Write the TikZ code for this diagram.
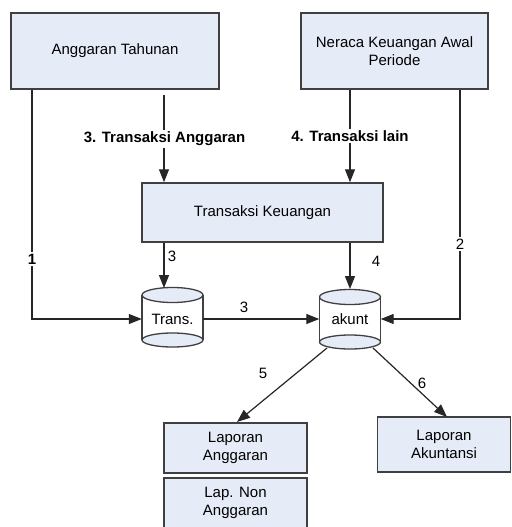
\documentclass[tikz,border=0pt]{standalone}
\usepackage{fontspec}
\setmainfont{Liberation Sans}
\usetikzlibrary{arrows.meta}
\definecolor{boxfill}{HTML}{E6ECF7}
\definecolor{edge}{HTML}{404040}
\begin{document}
\begin{tikzpicture}[x=1pt,y=-1pt,
  font=\fontsize{15}{18.5}\selectfont,
  box/.style={draw=edge, line width=1.5pt, fill=boxfill, align=center, inner sep=0pt},
  arr/.style={-{Triangle[length=13pt,width=10pt]}, line width=1.2pt, draw=black!85},
  lbl/.style={fill=white, inner sep=1.5pt},
  cyl/.style={draw=edge, line width=1.3pt}]
\clip (0,0) rectangle (511,527);
\fill[white] (0,0) rectangle (511,527);
% boxes
\node[box, minimum width=208pt, minimum height=76pt] (at) at (115,51) {Anggaran Tahunan};
\node[box, minimum width=187pt, minimum height=76pt] (nk) at (394.5,51) {Neraca Keuangan Awal\\Periode};
\node[box, minimum width=241pt, minimum height=59pt] (tk) at (262.5,212.5) {Transaksi Keuangan};
\node[box, minimum width=143pt, minimum height=50pt] (la) at (235.5,448) {Laporan\\Anggaran};
\node[box, minimum width=143pt, minimum height=50pt] (lna) at (235.5,503) {Lap. Non\\Anggaran};
\node[box, minimum width=133pt, minimum height=55pt] (lak) at (444,444.5) {Laporan\\Akuntansi};
% cylinders
\fill[white] (142,295) rectangle (203,340);
\draw[cyl] (142,295) -- (142,340) (203,295) -- (203,340);
\draw[cyl, fill=boxfill] (172.5,340) ellipse [x radius=30.5, y radius=7];
\draw[cyl, fill=boxfill] (172.5,295) ellipse [x radius=30.5, y radius=7.5];
\node[minimum width=61pt, minimum height=60pt, inner sep=0pt] (tr) at (172.5,319) {Trans.};
\fill[white] (319.5,297) rectangle (380.5,342);
\draw[cyl] (319.5,297) -- (319.5,342) (380.5,297) -- (380.5,342);
\draw[cyl, fill=boxfill] (350,342) ellipse [x radius=30.5, y radius=7];
\draw[cyl, fill=boxfill] (350,297) ellipse [x radius=30.5, y radius=7.5];
\node[minimum width=61pt, minimum height=60pt, inner sep=0pt] (ak) at (350,319) {akunt};
% coordinates
\coordinate (a1) at (164,95);
\coordinate (t3) at (164,288);
\coordinate (t4) at (350,289);
\coordinate (k5) at (327,348);
\coordinate (k6) at (373,348);
\coordinate (l5) at (237,422);
\coordinate (l6) at (447,417);
% connectors
\draw[arr] (at.south -| 32,0) |- (tr.west);
\draw[arr] (a1) -- (tk.north -| a1);
\draw[arr] (nk.south -| 350,0) -- (tk.north -| 350,0);
\draw[arr] (nk.south -| 460,0) |- (ak.east);
\draw[arr] (tk.south -| t3) -- (t3);
\draw[arr] (tk.south -| t4) -- (t4);
\draw[arr] (tr.east) -- (ak.west);
\draw[arr] (k5) -- (l5);
\draw[arr] (k6) -- (l6);
% labels
\node[lbl, font=\fontsize{15}{18.5}\selectfont\bfseries] (lb3) at (164.5,139) {3. Transaksi Anggaran};
\node[lbl, font=\fontsize{15}{18.5}\selectfont\bfseries] (lb4) at (350,136) {4. Transaksi lain};
\node[lbl, font=\fontsize{15}{18.5}\selectfont\bfseries] (lb1) at (32,259) {1};
\node[lbl] (lb2) at (460,244) {2};
\node (n3a) at (172,256) {3};
\node (n4) at (376,261) {4};
\node (n3b) at (244,307) {3};
\node (n5) at (263,373) {5};
\node (n6) at (422,383) {6};
\end{tikzpicture}
\end{document}
